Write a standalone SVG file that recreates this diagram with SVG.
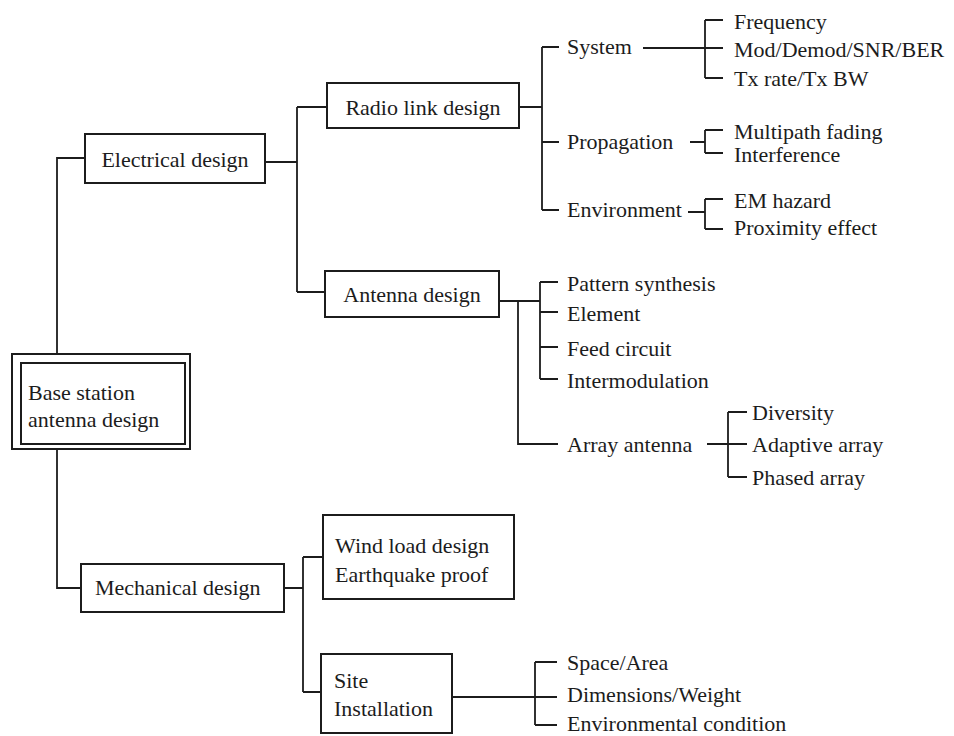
<svg xmlns="http://www.w3.org/2000/svg" width="954" height="736" viewBox="0 0 954 736">
<style>
.box{fill:#fff;stroke:#1c1c1c;stroke-width:2}
.ln{fill:none;stroke:#1c1c1c;stroke-width:1.8}
text{font-family:"Liberation Serif","Times New Roman",serif;font-size:22px;fill:#1c1c1c}
.c{text-anchor:middle}
</style>
<rect width="954" height="736" fill="#fff"/>
<g id="connectors" class="ln">
<path d="M57 354V158H85"/>
<path d="M57 449V588H81"/>
<path d="M265 162H297M297 107V292M297 107H327M297 292H325"/>
<path d="M519 107H542M542 47V210M542 47H559M542 142H559M542 210H559"/>
<path d="M643 48H723M705 20V78M705 20H723M705 78H723"/>
<path d="M690 142H705M705 130V153M705 130H723M705 153H723"/>
<path d="M688 212H705M705 199V229M705 199H723M705 229H723"/>
<path d="M499 301H540M540 282V379M540 282H558M540 312H558M540 347H558M540 379H558"/>
<path d="M518 301V444H558"/>
<path d="M707 444H747M728 412V477M728 412H747M728 477H747"/>
<path d="M284 588H303M303 557V692M303 557H323M303 692H321"/>
<path d="M452 697H557M535 662V725M535 662H557M535 725H557"/>
</g>
<g id="base">
<rect class="box" x="12" y="354" width="178" height="95"/>
<rect class="box" x="21" y="363" width="164" height="81"/>
<text x="28" y="400">Base station</text>
<text x="28" y="427">antenna design</text>
</g>
<g id="electrical"><rect class="box" x="85" y="134" width="180" height="49"/><text class="c" x="175" y="167">Electrical design</text></g>
<g id="radio"><rect class="box" x="327" y="83" width="192" height="45"/><text class="c" x="423" y="115">Radio link design</text></g>
<g id="system"><text x="567" y="54">System</text></g>
<g id="sys-items"><text x="734" y="29">Frequency</text><text x="734" y="57">Mod/Demod/SNR/BER</text><text x="734" y="86">Tx rate/Tx BW</text></g>
<g id="propagation"><text x="567" y="149">Propagation</text></g>
<g id="prop-items"><text x="734" y="139">Multipath fading</text><text x="734" y="162">Interference</text></g>
<g id="environment"><text x="567" y="217">Environment</text></g>
<g id="env-items"><text x="734" y="208">EM hazard</text><text x="734" y="235">Proximity effect</text></g>
<g id="antenna"><rect class="box" x="325" y="271" width="174" height="46"/><text class="c" x="412" y="302">Antenna design</text></g>
<g id="ant-items"><text x="567" y="291">Pattern synthesis</text><text x="567" y="321">Element</text><text x="567" y="356">Feed circuit</text><text x="567" y="388">Intermodulation</text></g>
<g id="array"><text x="567" y="452">Array antenna</text></g>
<g id="array-items"><text x="752" y="420">Diversity</text><text x="752" y="452">Adaptive array</text><text x="752" y="485">Phased array</text></g>
<g id="mechanical"><rect class="box" x="81" y="564" width="203" height="48"/><text x="95" y="595">Mechanical design</text></g>
<g id="wind"><rect class="box" x="323" y="515" width="191" height="84"/><text x="335" y="553">Wind load design</text><text x="335" y="582">Earthquake proof</text></g>
<g id="site"><rect class="box" x="321" y="654" width="131" height="79"/><text x="334" y="688">Site</text><text x="334" y="716">Installation</text></g>
<g id="site-items"><text x="567" y="670">Space/Area</text><text x="567" y="702">Dimensions/Weight</text><text x="567" y="731">Environmental condition</text></g>
</svg>
